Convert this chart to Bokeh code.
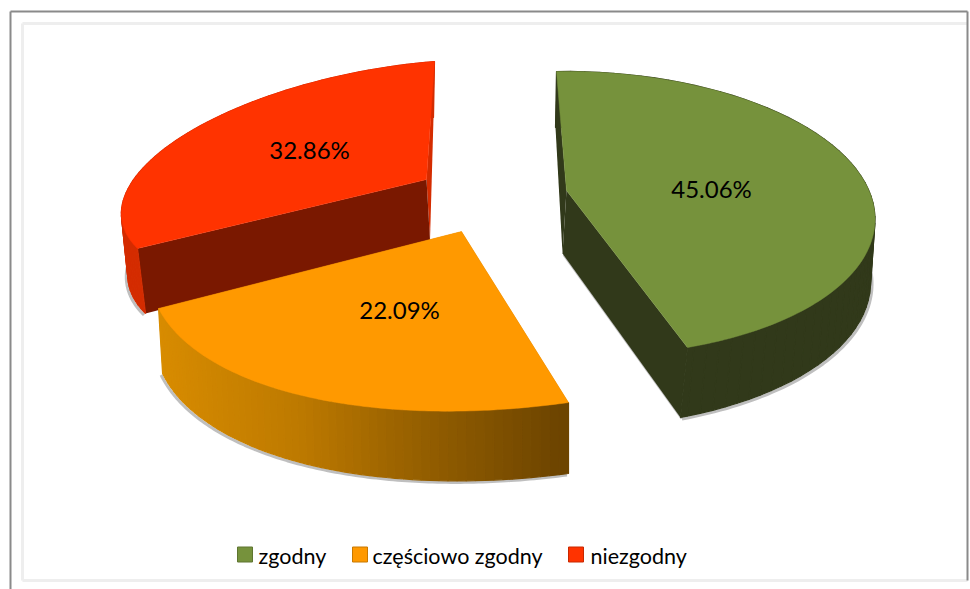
import numpy as np
from bokeh.plotting import figure
from bokeh.embed import file_html
from bokeh.resources import INLINE
from bokeh.core.properties import value

categories = ["zgodny", "częściowo zgodny", "niezgodny"]
shares = [45.06, 22.09, 32.86]
labels = ["45.06%", "22.09%", "32.86%"]

# projected circle of every exploded slice: centre, two axis vectors, apex
CENTRE = [(576.6, 213.0), (552.9, 218.6), (393.8, 174.7)]
AXIS_U = [(297.2, -4.1), (-404.3, 57.0), (-270.0, 22.0)]
AXIS_V = [(-20.6, -142.0), (15.1, 183.4), (40.2, -113.7)]
APEX = [(566, 190), (461, 231), (426, 179)]
DROP_START = [(-1, 56), (0, 71), (-1, 56)]
DROP_END = [(-7, 70), (4, 65), (8, 65)]
TOP = ["#76923C", "#FF9900", "#FF3300"]
CUT = ["#31391A", "#C47C00", "#7A1800"]
WALL = ["#31391A", "#B87400", "#D42C00"]
LABEL_POS = [(711, 188), (399, 309), (309, 149)]
LEGEND_X = [237, 352, 568]
LEGEND_TEXT_X = [258, 372, 590]
FRAME_X = [10, 22, 967]
FRAME_Y = [11, 23, 580, 589]

p = figure(width=970, height=589, x_range=(0, 970), y_range=(589, 0),
           toolbar_location=None, output_backend="svg", min_border=0)
p.axis.visible = False
p.grid.visible = False
p.outline_line_color = None
p.background_fill_color = "white"
p.border_fill_color = "white"
p.styles = {"position": "absolute", "left": "0px", "top": "0px"}

# frame
p.segment([FRAME_X[1], FRAME_X[1], FRAME_X[1]], [FRAME_Y[1], FRAME_Y[1], FRAME_Y[2]],
          [FRAME_X[2], FRAME_X[1], FRAME_X[2]], [FRAME_Y[1], FRAME_Y[2], FRAME_Y[2]],
          line_color="#EEEEEE", line_width=3)
p.segment([FRAME_X[0], FRAME_X[0], FRAME_X[2]], [FRAME_Y[0], FRAME_Y[0], FRAME_Y[0]],
          [FRAME_X[0], FRAME_X[2], FRAME_X[2]], [FRAME_Y[3], FRAME_Y[0], FRAME_Y[2]],
          line_color="#8A8A8A", line_width=2)


def arc(i, n=120):
    span = np.radians(shares[i] * 3.6)
    t = np.linspace(0, span, n)
    x = CENTRE[i][0] + AXIS_U[i][0] * np.sin(t) + AXIS_V[i][0] * np.cos(t)
    y = CENTRE[i][1] + AXIS_U[i][1] * np.sin(t) + AXIS_V[i][1] * np.cos(t)
    f = np.linspace(0, 1, n)
    dx = DROP_START[i][0] + (DROP_END[i][0] - DROP_START[i][0]) * f
    dy = DROP_START[i][1] + (DROP_END[i][1] - DROP_START[i][1]) * f
    return x, y, dx, dy


def orange_wall(x):
    rgb = [np.interp(x, [160, 300, 420, 568], c) for c in
           ([216, 190, 150, 108], [140, 122, 96, 68], [0, 0, 0, 0])]
    return "#%02X%02X%02X" % tuple(int(v) for v in rgb)


def draw(i):
    x, y, dx, dy = arc(i)
    ax, ay = APEX[i]
    adx = (DROP_START[i][0] + DROP_END[i][0]) / 2
    ady = (DROP_START[i][1] + DROP_END[i][1]) / 2
    sh = 1.5 if i == 0 else -1.5
    p.line(x + dx + sh, y + dy + 1.5, line_color="#8A8A8A", line_alpha=0.55, line_width=3)
    p.line([ax + adx + sh, x[-1] + dx[-1] + sh], [ay + ady + 1, y[-1] + dy[-1] + 1],
           line_color="#8A8A8A", line_alpha=0.55 if i == 0 else 0, line_width=3)
    p.patch([x[0], ax, ax + adx, x[0] + dx[0]], [y[0], ay, ay + ady, y[0] + dy[0]],
            fill_color=CUT[i] if i == 0 else WALL[i], line_color=None)
    p.patch([x[-1], ax, ax + adx, x[-1] + dx[-1]], [y[-1], ay, ay + ady, y[-1] + dy[-1]],
            fill_color=CUT[i], line_color=None)
    for k in range(0, len(x) - 1, 2):
        c = orange_wall(x[k]) if i == 1 else WALL[i]
        j = min(k + 2, len(x) - 1)
        p.patch([x[k], x[j], x[j] + dx[j], x[k] + dx[k]],
                [y[k], y[j], y[j] + dy[j], y[k] + dy[k]],
                fill_color=c, line_color=c, line_width=1.2)
    p.patch(list(x) + [ax], list(y) + [ay], fill_color=TOP[i], line_color=TOP[i], line_width=0.5)


for i in (2, 0, 1):
    draw(i)

p.text([q[0] for q in LABEL_POS], [q[1] for q in LABEL_POS], text=labels,
       text_font=value("Lato"), text_font_size="24px", text_color="#000000",
       text_align="center", text_baseline="middle")

p.scatter([x + 7.5 for x in LEGEND_X], [554] * 3, marker="square", size=15,
          fill_color=TOP, line_color=["#5E7530", "#C87800", "#C82800"], line_width=1)
p.text(LEGEND_TEXT_X, [555] * 3, text=categories, text_font=value("Lato"),
       text_font_size="21.5px", text_color="#000000", text_align="left", text_baseline="middle")

open("out.html", "w").write(file_html(p, INLINE))
